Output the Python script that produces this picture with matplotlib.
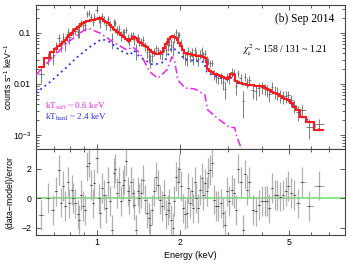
import numpy as np
import matplotlib
matplotlib.use("Agg")
import matplotlib.pyplot as plt
from matplotlib.ticker import FixedLocator, NullFormatter, LogLocator

plt.rcParams["font.family"] = ["Liberation Sans", "DejaVu Sans"]
plt.rcParams["mathtext.fontset"] = "custom"
plt.rcParams["mathtext.rm"] = "Liberation Sans"
plt.rcParams["mathtext.it"] = "Liberation Sans:italic"

# bin centres (keV)
energy = [
    0.626, 0.662, 0.690, 0.710, 0.726, 0.740, 0.754, 0.767, 0.782, 0.793,
    0.809, 0.820, 0.834, 0.851, 0.863, 0.875, 0.892, 0.907, 0.920, 0.937,
    0.951, 0.965, 0.978, 0.997, 1.014, 1.028, 1.043, 1.063, 1.078, 1.093,
    1.115, 1.134, 1.150, 1.166, 1.186, 1.206, 1.223, 1.240, 1.257, 1.275,
    1.293, 1.311, 1.329, 1.348, 1.367, 1.386, 1.406, 1.426, 1.449, 1.474,
    1.494, 1.516, 1.542, 1.563, 1.585, 1.616, 1.639, 1.667, 1.694, 1.723,
    1.753, 1.782, 1.807, 1.833, 1.858, 1.884, 1.910, 1.937, 1.965, 1.993,
    2.026, 2.060, 2.094, 2.119, 2.148, 2.178, 2.208, 2.239, 2.271, 2.302,
    2.335, 2.369, 2.403, 2.436, 2.470, 2.506, 2.540, 2.576, 2.612, 2.665,
    2.709, 2.761, 2.817, 2.864, 2.921, 2.979, 3.027, 3.089, 3.148, 3.203,
    3.265, 3.330, 3.386, 3.452, 3.521, 3.580, 3.683, 3.786, 3.882, 3.992,
    4.083, 4.160, 4.233, 4.342, 4.437, 4.536, 4.655, 4.760, 4.855, 4.964,
    5.077, 5.220, 5.370, 5.580, 5.916, 6.430,
]

# total model (red histogram), counts s^-1 keV^-1
model = [
    0.022, 0.032, 0.042, 0.048, 0.055, 0.062, 0.068, 0.074, 0.082, 0.090,
    0.100, 0.108, 0.118, 0.130, 0.140, 0.150, 0.158, 0.165, 0.170, 0.174,
    0.176, 0.178, 0.180, 0.186, 0.193, 0.196, 0.188, 0.175, 0.165, 0.158,
    0.145, 0.132, 0.122, 0.114, 0.106, 0.099, 0.093, 0.088, 0.082, 0.077,
    0.073, 0.070, 0.075, 0.082, 0.082, 0.078, 0.073, 0.068, 0.063, 0.059,
    0.056, 0.053, 0.049, 0.046, 0.043, 0.040, 0.039, 0.039, 0.040, 0.043,
    0.050, 0.060, 0.068, 0.076, 0.083, 0.087, 0.085, 0.080, 0.072, 0.065,
    0.056, 0.047, 0.041, 0.040, 0.039, 0.038, 0.038, 0.037, 0.037, 0.036,
    0.036, 0.035, 0.035, 0.034, 0.032, 0.027, 0.020, 0.018, 0.017, 0.016,
    0.0155, 0.015, 0.0143, 0.0137, 0.013, 0.0126, 0.0135, 0.0155, 0.0150, 0.0112,
    0.0108, 0.0104, 0.0101, 0.0098, 0.0096, 0.0095, 0.0094, 0.0093, 0.0092, 0.0090,
    0.0085, 0.0080, 0.0076, 0.0071, 0.0067, 0.0063, 0.0058, 0.0054, 0.0051, 0.0048,
    0.0043, 0.0036, 0.0031, 0.0022, 0.0018, 0.00125,
]

# residuals (data-model)/error
resid = [
    -1.13, 0.0, -0.8, 0.45, 1.9, -0.3, 0.8, -0.55, 1.1, -0.35,
    0.55, 0.0, -0.35, -1.1, -1.45, 0.2, -0.55, -0.8, 2.15, 2.4,
    0.9, -0.35, 1.0, 2.7, 0.0, -1.0, 0.7, 0.2, -0.7, 1.1,
    -0.2, -2.15, 1.7, 2.0, 0.35, 1.1, -0.2, 0.9, 1.25, 2.5,
    0.45, -0.1, 1.1, 0.35, -0.45, -2.15, 0.45, 0.0, 0.35, 1.25,
    -0.1, -1.0, -1.35, -1.8, -0.8, 0.45, 1.45, 0.9, -0.1, -0.55,
    0.2, -1.1, -0.8, -0.35, -1.45, -2.0, -0.2, 1.45, 1.1, 2.0,
    0.8, -0.7, -1.1, -1.0, 0.7, -0.35, 0.45, -0.7, 1.1, 0.0,
    -0.7, 0.55, 1.35, 0.2, 1.0, 0.45, 1.7, 1.9, 2.4, -0.1,
    -0.55, -0.55, -0.35, -1.0, -1.8, 0.45, -0.2, 0.55, 0.35, -0.8,
    2.0, 1.1, -2.15, 1.6, 0.55, 1.1, -0.8, -0.9, -0.45, -0.2,
    -0.2, -0.2, -0.7, 0.7, 0.2, 0.2, 0.1, 0.2, 0.45, 0.8,
    0.35, 0.2, -0.35, 1.1, -0.55, 0.85,
]

# fractional 1-sigma error of each bin
rel_err = [
    0.25, 0.25, 0.25, 0.25, 0.25, 0.25, 0.25, 0.25, 0.25, 0.25,
    0.18, 0.18, 0.18, 0.18, 0.18, 0.18, 0.18, 0.18, 0.18, 0.18,
    0.18, 0.18, 0.18, 0.18, 0.18, 0.18, 0.18, 0.18, 0.18, 0.18,
    0.20, 0.20, 0.20, 0.20, 0.20, 0.20, 0.20, 0.20, 0.20, 0.20,
    0.20, 0.20, 0.20, 0.20, 0.20, 0.20, 0.20, 0.20, 0.20, 0.20,
    0.20, 0.20, 0.20, 0.20, 0.20, 0.20, 0.20, 0.20, 0.20, 0.20,
    0.20, 0.20, 0.20, 0.20, 0.20, 0.20, 0.20, 0.20, 0.20, 0.20,
    0.20, 0.20, 0.20, 0.22, 0.22, 0.22, 0.22, 0.22, 0.22, 0.22,
    0.22, 0.22, 0.22, 0.22, 0.22, 0.22, 0.22, 0.22, 0.22, 0.22,
    0.22, 0.22, 0.22, 0.22, 0.22, 0.22, 0.22, 0.22, 0.22, 0.25,
    0.25, 0.25, 0.25, 0.25, 0.25, 0.25, 0.25, 0.25, 0.25, 0.25,
    0.25, 0.25, 0.25, 0.30, 0.30, 0.30, 0.30, 0.30, 0.30, 0.30,
    0.30, 0.30, 0.30, 0.35, 0.35, 0.35,
]

# soft component (magenta dash-dot)
soft_e = [0.6, 0.675, 0.778, 0.867, 0.927, 1.0, 1.025, 1.143, 1.285, 1.35,
          1.433, 1.558, 1.666, 1.796, 1.874, 1.92, 1.97, 2.09, 2.27, 2.47,
          2.53, 2.75, 3.04, 3.17, 3.23, 3.37]
soft_val = [0.015, 0.0296, 0.0637, 0.10, 0.125, 0.105, 0.10, 0.0666, 0.0464, 0.053,
            0.0405, 0.0172, 0.013, 0.0188, 0.034, 0.027, 0.012, 0.0083, 0.008, 0.0061,
            0.0031, 0.0021, 0.0014, 0.0014, 0.00091, 0.00051]

# hard component (blue dotted)
hard_e = [0.6, 0.675, 0.77, 0.85, 0.94, 1.04, 1.11, 1.21, 1.32, 1.36,
          1.43, 1.60, 1.76, 1.87, 1.95, 2.09, 2.45, 2.51, 2.55, 2.99,
          3.12, 3.2, 3.54, 3.98, 4.44, 4.95, 5.38, 5.61, 6.05, 6.25, 6.63]
hard_val = [0.0067, 0.0109, 0.0206, 0.034, 0.053, 0.076, 0.067, 0.046, 0.037, 0.046,
            0.034, 0.0236, 0.027, 0.051, 0.046, 0.030, 0.027, 0.0172, 0.016, 0.012,
            0.0137, 0.0105, 0.0093, 0.0089, 0.0066, 0.0048, 0.0030, 0.0022, 0.0018, 0.00135, 0.00122]

e = np.array(energy)
m = np.array(model)
r = np.array(resid)
rel = np.array(rel_err)

# bin edges halfway (in log) between centres
mid = np.sqrt(e[:-1] * e[1:])
edges = np.concatenate([[e[0] ** 2 / mid[0]], mid, [e[-1] ** 2 / mid[-1]]])
xlo = e - edges[:-1]
xhi = edges[1:] - e

sig = m * rel
data = m + r * sig

fig = plt.figure(figsize=(3.5, 2.63), dpi=100)
ax1 = fig.add_axes([0.103, 0.4335, 0.883, 0.5475])
ax2 = fig.add_axes([0.103, 0.106, 0.883, 0.3275], sharex=ax1)

frame = "#444444"
for ax in (ax1, ax2):
    ax.set_xscale("log")
    for s in ax.spines.values():
        s.set_color(frame)
        s.set_linewidth(0.8)
    ax.tick_params(which="both", direction="in", top=True, right=True,
                   colors=frame, labelcolor="black", labelsize=6.3, width=0.6)
    ax.tick_params(which="major", length=3.5)
    ax.tick_params(which="minor", length=2)

# top panel
ax1.errorbar(e, data, yerr=sig, xerr=[xlo, xhi], fmt="none",
             ecolor="#666666", elinewidth=0.6, capsize=0, zorder=2)
ax1.plot(hard_e, hard_val, color="#2a2aff", ls=(0, (1, 2)), lw=1.3, zorder=3)
ax1.plot(soft_e, soft_val, color="#ee22ee", ls=(0, (5, 2, 1, 2)), lw=1.1, zorder=3)
ax1.stairs(m, edges, color="#ff1a1a", lw=1.5, baseline=None, zorder=4)

ax1.set_yscale("log")
ax1.set_ylim(5.3e-4, 0.354)
ax1.set_xlim(0.6, 8.0)
ax1.yaxis.set_major_locator(FixedLocator([1e-3, 1e-2, 1e-1]))
ax1.set_yticklabels(["$10^{-3}$", "0.01", "0.1"])
ax1.yaxis.set_minor_locator(LogLocator(base=10, subs=np.arange(2, 10), numticks=20))
ax1.yaxis.set_minor_formatter(NullFormatter())
ax1.tick_params(axis="x", which="both", labelbottom=False)
ax1.set_ylabel("counts s$^{-1}$ keV$^{-1}$", fontsize=6.3)
ax1.yaxis.set_label_coords(-0.07, 0.5)

serif = ["Liberation Serif", "DejaVu Serif"]
ax1.text(0.965, 0.90, "(b) Sep 2014", transform=ax1.transAxes, ha="right",
         va="center", fontsize=8.3, family=serif)
ax1.text(0.945, 0.69, r"$\chi^2_\nu$ ~ 158 / 131 ~ 1.21", transform=ax1.transAxes,
         ha="right", va="center", fontsize=7, family=serif, math_fontfamily="stix")
ax1.text(0.03, 0.295, r"kT$_{\mathrm{soft}}$ ~ 0.6 keV", transform=ax1.transAxes,
         ha="left", va="center", fontsize=6.6, family=serif, color="#ee22ee",
         math_fontfamily="stix")
ax1.text(0.03, 0.22, r"kT$_{\mathrm{hard}}$ ~ 2.4 keV", transform=ax1.transAxes,
         ha="left", va="center", fontsize=6.6, family=serif, color="#2a2aff",
         math_fontfamily="stix")

# residual panel
ax2.axhline(0, color="#7be87b", lw=1.3, zorder=1)
ax2.errorbar(e, r, yerr=np.ones_like(r), xerr=[xlo, xhi], fmt="none",
             ecolor="#b0b0b0", elinewidth=0.9, capsize=0, zorder=2)
ax2.plot(e, r, ls="none", marker="_", ms=1.5, mew=0.6, color="#333333", zorder=3)
ax2.set_ylim(-2.5, 3.32)
ax2.set_yticks([-2, 0, 2])
ax2.set_yticklabels(["\u22122", "0", "2"])
ax2.set_xlim(0.6, 8.0)
ax2.xaxis.set_major_locator(FixedLocator([1, 2, 5]))
ax2.set_xticklabels(["1", "2", "5"])
ax2.xaxis.set_minor_locator(FixedLocator([0.6, 0.7, 0.8, 0.9, 3, 4, 6, 7, 8]))
ax2.xaxis.set_minor_formatter(NullFormatter())
ax2.set_xlabel("Energy (keV)", fontsize=6.5, labelpad=3)
ax2.set_ylabel("(data\u2212model)/error", fontsize=6.3)
ax2.yaxis.set_label_coords(-0.07, 0.5)
ax2.tick_params(axis="x", pad=2)

fig.savefig("out.png", dpi=100)
